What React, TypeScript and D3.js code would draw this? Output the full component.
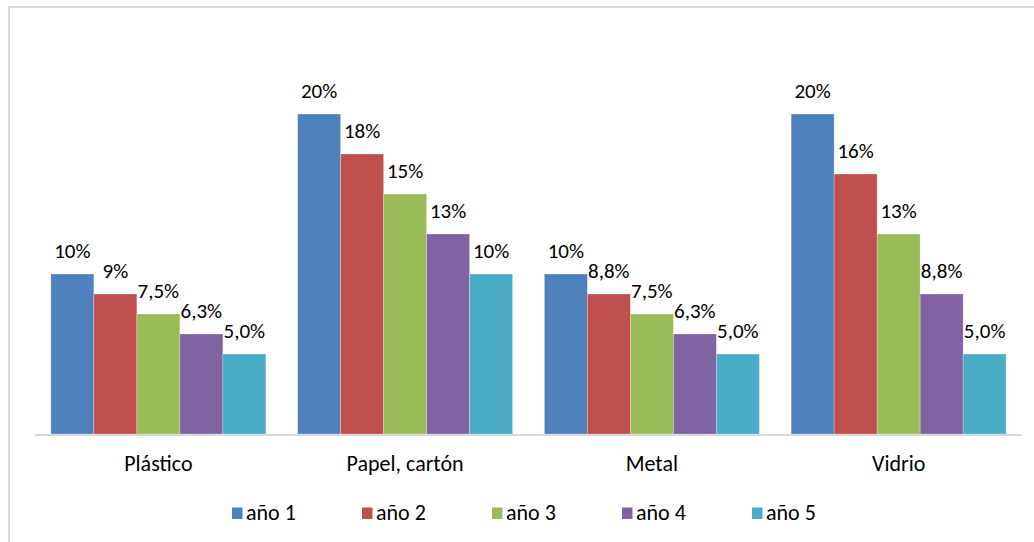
import React from "react";
import * as d3 from "d3";

const categories = ["Plástico", "Papel, cartón", "Metal", "Vidrio"];
const seriesNames = ["año 1", "año 2", "año 3", "año 4", "año 5"];
const plastico = [0.10, 0.0875, 0.075, 0.0625, 0.05];
const papel = [0.20, 0.175, 0.15, 0.125, 0.10];
const metal = [0.10, 0.0875, 0.075, 0.0625, 0.05];
const vidrio = [0.20, 0.1625, 0.125, 0.0875, 0.05];
const plasticoLabels = ["10%", "9%", "7,5%", "6,3%", "5,0%"];
const papelLabels = ["20%", "18%", "15%", "13%", "10%"];
const metalLabels = ["10%", "8,8%", "7,5%", "6,3%", "5,0%"];
const vidrioLabels = ["20%", "16%", "13%", "8,8%", "5,0%"];
const colors = ["#4F81BD", "#C0504D", "#9BBB59", "#8064A2", "#4BACC6"];

const values = [plastico, papel, metal, vidrio];
const labels = [plasticoLabels, papelLabels, metalLabels, vidrioLabels];

const W = 1034;
const H = 542;
const FONT = "Carlito, 'Liberation Sans', Arial, sans-serif";

export default function App() {
  const x0 = d3
    .scaleBand<string>()
    .domain(categories)
    .range([35, 1022])
    .paddingInner(0.1287)
    .paddingOuter(0.0643);
  const x1 = d3
    .scaleBand<string>()
    .domain(seriesNames)
    .range([0, x0.bandwidth()])
    .padding(0);
  const y = d3.scaleLinear().domain([0, 0.25]).range([434, 34]);
  const legendX = d3.scalePoint<string>().domain(seriesNames).range([232, 752]);

  return (
    <svg
      width={W}
      height={H}
      style={{ position: "absolute", left: 0, top: 0, display: "block" }}
      fontFamily={FONT}
    >
      <rect x={0} y={0} width={W} height={H} fill="#fff" />
      <rect x={9} y={7} width={W + 20} height={H + 20} fill="none" stroke="#d9d9d9" strokeWidth={2} />
      {categories.map((c, ci) => (
        <g key={c} transform={`translate(${x0(c)},0)`}>
          {seriesNames.map((s, si) => {
            const v = values[ci][si];
            const bx = x1(s)!;
            return (
              <g key={s}>
                <rect
                  x={bx}
                  y={y(v)}
                  width={x1.bandwidth()}
                  height={y(0) - y(v)}
                  fill={colors[si]}
                  stroke="#ffffff"
                  strokeOpacity={0.35}
                  strokeWidth={0.75}
                />
                <text
                  x={bx + x1.bandwidth() / 2}
                  y={y(v) - 16.5}
                  textAnchor="middle"
                  fontSize={21}
                  fill="#000"
                >
                  {labels[ci][si]}
                </text>
              </g>
            );
          })}
          <text
            x={x0.bandwidth() / 2}
            y={471}
            textAnchor="middle"
            fontSize={22}
            fill="#000"
          >
            {c}
          </text>
        </g>
      ))}
      <line x1={35} x2={1022} y1={y(0) + 1} y2={y(0) + 1} stroke="#d9d9d9" strokeWidth={2} />
      {seriesNames.map((s, si) => (
        <g key={s} transform={`translate(${legendX(s)},0)`}>
          <rect x={0} y={507.5} width={10.5} height={11.5} fill={colors[si]} />
          <text x={14} y={520} fontSize={22} fill="#000">
            {s}
          </text>
        </g>
      ))}
    </svg>
  );
}
